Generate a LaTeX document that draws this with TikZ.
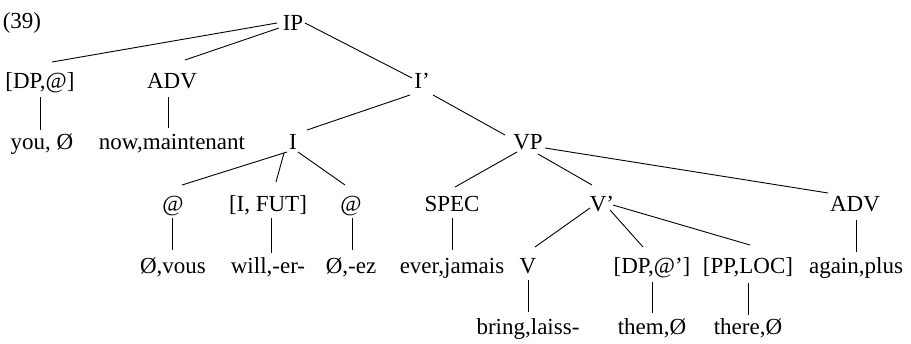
\documentclass[tikz,border=0pt]{standalone}
\usepackage{fontspec}
\setmainfont{Liberation Serif}
\begin{document}
\begin{tikzpicture}[x=1pt,y=-1pt,
  t/.style={anchor=base,inner sep=0pt,font=\fontsize{23}{27}\selectfont},
  br/.style={line width=0.9pt}]
\useasboundingbox (0,0) rectangle (911,343);
% row 0
\node[t] (L39) at (22,28) {(39)};
\node[t] (IP) at (293,30) {IP};
% row 1
\node[t] (DP) at (40,88) {[DP,@]};
\node[t] (ADVa) at (172,88) {ADV};
\node[t] (Ib) at (422,88) {I’};
% row 2
\node[t] (you) at (42,149) {you, Ø};
\node[t] (now) at (172,149) {now,maintenant};
\node[t] (I) at (293,149) {I};
\node[t] (VP) at (528,149) {VP};
% row 3
\node[t] (ata) at (173,211) {@};
\node[t] (IFUT) at (268,211) {[I, FUT]};
\node[t] (atb) at (351,211) {@};
\node[t] (SPEC) at (452,211) {SPEC};
\node[t] (Vb) at (602,211) {V’};
\node[t] (ADVb) at (855,211) {ADV};
% row 4
\node[t] (vous) at (173,273) {Ø,vous};
\node[t] (will) at (268,273) {will,-er-};
\node[t] (ez) at (351,273) {Ø,-ez};
\node[t] (ever) at (452,273) {ever,jamais};
\node[t] (V) at (528,273) {V};
\node[t] (DPb) at (652,273) {[DP,@’]};
\node[t] (PP) at (748,273) {[PP,LOC]};
\node[t] (again) at (856,273) {again,plus};
% row 5
\node[t] (bring) at (528,334) {bring,laiss-};
\node[t] (them) at (652,334) {them,Ø};
\node[t] (there) at (748,334) {there,Ø};
% branches
\draw[br] ([shift={(-16,-7)}]IP.base) -- ([shift={(12,-26)}]DP.base);
\draw[br] ([shift={(-14,-2)}]IP.base) -- ([shift={(13,-28)}]ADVa.base);
\draw[br] ([shift={(12,-7)}]IP.base) -- ([shift={(-10,-10)}]Ib.base);
\draw[br] ([shift={(-12,7)}]Ib.base) -- ([shift={(14,-19)}]I.base);
\draw[br] ([shift={(11,7)}]Ib.base) -- ([shift={(-23,-14)}]VP.base);
\draw[br] ([shift={(-6,3)}]I.base) -- ([shift={(9,-26)}]ata.base);
\draw[br] ([shift={(-9,4)}]I.base) -- ([shift={(8,-29)}]IFUT.base);
\draw[br] ([shift={(5,3)}]I.base) -- ([shift={(-6,-26)}]atb.base);
\draw[br] ([shift={(-11,3)}]VP.base) -- ([shift={(3,-24)}]SPEC.base);
\draw[br] ([shift={(10,5)}]VP.base) -- ([shift={(-10,-26)}]Vb.base);
\draw[br] ([shift={(17,-1)}]VP.base) -- ([shift={(-27,-18)}]ADVb.base);
\draw[br] ([shift={(-12,-3)}]Vb.base) -- ([shift={(7,-26)}]V.base);
\draw[br] ([shift={(8,-1)}]Vb.base) -- ([shift={(-9,-26)}]DPb.base);
\draw[br] ([shift={(11,-6)}]Vb.base) -- ([shift={(2,-28)}]PP.base);
% vertical branches
\draw[br] ([shift={(0,9)}]DP.base) -- ([shift={(-2,-19)}]you.base);
\draw[br] ([shift={(-4,9)}]ADVa.base) -- ([shift={(-4,-21)}]now.base);
\draw[br] ([shift={(-1,7)}]ata.base) -- ([shift={(-1,-23)}]vous.base);
\draw[br] ([shift={(3,7)}]IFUT.base) -- ([shift={(3,-20)}]will.base);
\draw[br] ([shift={(1,7)}]atb.base) -- ([shift={(1,-23)}]ez.base);
\draw[br] ([shift={(0,7)}]SPEC.base) -- ([shift={(0,-23)}]ever.base);
\draw[br] ([shift={(1,9)}]ADVb.base) -- ([shift={(0,-21)}]again.base);
\draw[br] ([shift={(0,7)}]V.base) -- ([shift={(0,-22)}]bring.base);
\draw[br] ([shift={(0,9)}]DPb.base) -- ([shift={(0,-21)}]them.base);
\draw[br] ([shift={(0,10)}]PP.base) -- ([shift={(0,-19)}]there.base);
\end{tikzpicture}
\end{document}
